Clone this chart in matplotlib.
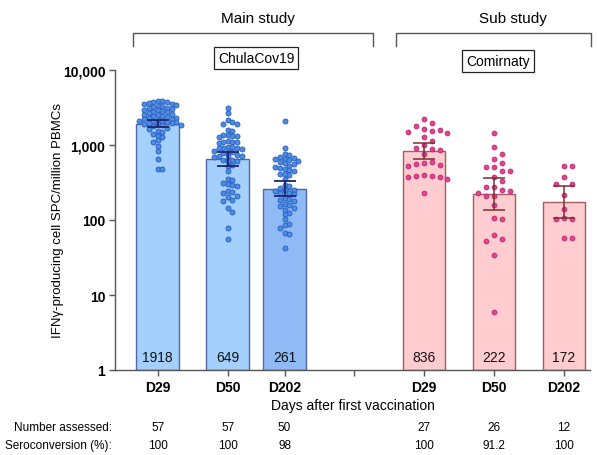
import numpy as np
import matplotlib
matplotlib.use("Agg")
import matplotlib.pyplot as plt
import matplotlib.transforms as mtransforms
from matplotlib.lines import Line2D

plt.rcParams['font.family'] = ['Liberation Sans', 'DejaVu Sans']

# ---------------- data ----------------
tick_labels = ["D29", "D50", "D202", "D29", "D50", "D202"]
main_gmt = [1918, 649, 261]
sub_gmt = [836, 222, 172]
main_ci_low = [1730, 520, 209]
main_ci_high = [2150, 815, 330]
sub_ci_low = [660, 138, 106]
sub_ci_high = [1075, 363, 283]
number_assessed = ["57", "57", "50", "27", "26", "12"]
seroconversion = ["100", "100", "98", "100", "91.2", "100"]

main_d29 = [3900, 3820, 3760, 3700, 3620, 3550, 3480, 3420, 3360, 3300,
            3230, 3160, 3100, 3040, 2970, 2900, 2840, 2780, 2720, 2660,
            2600, 2550, 2500, 2450, 2400, 2360, 2320, 2280, 2240, 2200,
            2160, 2120, 2090, 2060, 2030, 2000, 1970, 1940, 1910, 1880,
            1850, 1820, 1780, 1700, 1640, 1560, 1480, 1420, 1330, 1260,
            1150, 1100, 970, 830, 660, 484, 480]
main_d50 = [3100, 2650, 2150, 2050, 1920, 1880, 1580, 1520,
            1360, 1340, 1320, 1300, 1290, 1120, 1110, 1100, 1090, 1070,
            940, 930, 920, 910, 900, 890, 820, 810, 800, 790,
            730, 720, 715, 705, 700, 640, 630, 620, 610, 545, 525, 450,
            355, 345, 315, 305, 290, 280, 240, 235, 230, 210, 200, 182, 178,
            145, 127, 79, 56]
main_d202 = [2100, 920, 770, 740, 700, 680, 660, 645, 630, 615, 590, 570, 550,
             530, 515, 500, 475, 460, 445, 415, 405, 395, 350, 290, 280,
             265, 255, 250, 245, 232, 226, 220, 198, 192, 186, 180, 165, 160, 155,
             145, 138, 124, 120, 102, 89, 86, 79, 67, 65, 42]
sub_d29 = [2210, 1960, 1800, 1650, 1600, 1550, 1480, 1440, 1290, 1130, 1010, 920,
           890, 860, 755, 600, 570, 555, 545, 530, 400, 390, 385, 375, 370, 350, 232]
sub_d50 = [1440, 940, 767, 660, 580, 515, 505, 455, 445, 370, 330, 278, 272, 250,
           246, 226, 210, 206, 158, 106, 102, 64, 55, 53, 34, 6]
sub_d202 = [530, 520, 372, 302, 298, 213, 141, 106, 104, 102, 58, 57]

main_points = [main_d29, main_d50, main_d202]
sub_points = [sub_d29, sub_d50, sub_d202]

# ---------------- layout ----------------
W, H = 598, 456
fig = plt.figure(figsize=(W/100, H/100), dpi=100)
ax = fig.add_axes([115/W, (H-371)/H, (590-115)/W, (371-71)/H])

main_x = [0, 1, 1.81]
sub_x = [3.8, 4.8, 5.8]
gap_tick = 2.8
bw = 0.61

ax.set_yscale('log')
ax.set_ylim(1, 10000)
ax.set_xlim(-0.61, 6.17)

main_face = ['#a3d0fd', '#a3d0fd', '#8fbaf5']
main_edge = '#5565a8'
sub_face = '#ffcdcf'
sub_edge = '#a85a5e'

ax.bar(main_x, main_gmt, width=bw, bottom=1, color=main_face, edgecolor=main_edge,
       linewidth=1.0, zorder=1)
ax.bar(sub_x, sub_gmt, width=bw, bottom=1, color=sub_face, edgecolor=sub_edge,
       linewidth=1.0, zorder=1)


def swarm(xc, vals, d):
    y_disp = [ax.transData.transform((xc, v))[1] for v in vals]
    x0 = ax.transData.transform((xc, 1))[0]
    order = np.argsort(y_disp)[::-1]
    placed = []
    out = [0.0]*len(vals)
    cands = [0.0]
    for j in range(1, 40):
        cands += [j*d, -j*d]
    for i in order:
        yd = y_disp[i]
        for off in cands:
            if all((px-(x0+off))**2 + (py-yd)**2 >= (d*0.98)**2 for px, py in placed):
                placed.append((x0+off, yd))
                out[i] = off
                break
    inv = ax.transData.inverted()
    scale = inv.transform((x0+1, 0))[0] - inv.transform((x0, 0))[0]
    return [xc + o*scale for o in out]


for xc, vals in zip(main_x, main_points):
    xs = swarm(xc, vals, 4.6)
    ax.scatter(xs, vals, s=13, color='#4a8ee8', edgecolor='#2b5cb8', linewidth=0.6, zorder=3)
for xc, vals in zip(sub_x, sub_points):
    xs = swarm(xc, vals, 7.8)
    ax.scatter(xs, vals, s=12, color='#e6428f', edgecolor='#b52670', linewidth=0.6, zorder=3)

m_gmt = np.array(main_gmt, float)
s_gmt = np.array(sub_gmt, float)
ax.errorbar(main_x, m_gmt, yerr=[m_gmt-np.array(main_ci_low), np.array(main_ci_high)-m_gmt],
            fmt='none', ecolor='#1f2470', elinewidth=1.3, capsize=8, capthick=1.3, zorder=4)
ax.errorbar(sub_x, s_gmt, yerr=[s_gmt-np.array(sub_ci_low), np.array(sub_ci_high)-s_gmt],
            fmt='none', ecolor='#7a2f33', elinewidth=1.1, capsize=8, capthick=1.1, zorder=4)

for xc, v in zip(main_x + sub_x, main_gmt + sub_gmt):
    ax.text(xc, 1.5, f"{v}", ha='center', va='center', fontsize=10, color='#111111', zorder=5)

for s in ['top', 'right']:
    ax.spines[s].set_visible(False)
for s in ['left', 'bottom']:
    ax.spines[s].set_color('#555555')
    ax.spines[s].set_linewidth(1.0)
ax.set_yticks([1, 10, 100, 1000, 10000])
ax.set_yticklabels(["1", "10", "100", "1,000", "10,000"], fontsize=10, fontweight='bold')
ax.minorticks_off()
all_x = main_x + [gap_tick] + sub_x
ax.set_xticks(all_x)
ax.set_xticklabels(tick_labels[:3] + [""] + tick_labels[3:], fontsize=10, fontweight='bold')
ax.tick_params(axis='both', length=4, width=1.0, color='#555555', pad=3)
ax.set_ylabel("IFNγ-producing cell SPC/million PBMCs", fontsize=9.5)
ax.yaxis.set_label_coords(-0.108, 0.5)

ax.text(0.5, -0.117, "Days after first vaccination", transform=ax.transAxes,
        ha='center', va='center', fontsize=10)
bt = mtransforms.blended_transform_factory(ax.transData, fig.transFigure)
y_na = (H-428)/H
y_sc = (H-446)/H
fig.text(112/W, y_na, "Number assessed:", ha='right', va='center', fontsize=8.5)
fig.text(112/W, y_sc, "Seroconversion (%):", ha='right', va='center', fontsize=8.5)
for xc, a, b in zip(main_x + sub_x, number_assessed, seroconversion):
    ax.text(xc, y_na, a, transform=bt, ha='center', va='center', fontsize=8.5, clip_on=False)
    ax.text(xc, y_sc, b, transform=bt, ha='center', va='center', fontsize=8.5, clip_on=False)


def fx(px):
    return px / W


def fy(py):
    return (H - py) / H


for (x1, x2, title, tx, box, bx, by) in [
        (133, 373, "Main study", 258, "ChulaCov19", 256, 59),
        (396, 591, "Sub study", 513, "Comirnaty", 498, 62)]:
    fig.add_artist(Line2D([fx(x1), fx(x1), fx(x2), fx(x2)],
                          [fy(47), fy(34), fy(34), fy(47)], color='#555555', lw=1.0))
    fig.text(fx(tx), fy(19), title, ha='center', va='center', fontsize=11)
    fig.text(fx(bx), fy(by), box, ha='center', va='center', fontsize=10,
             bbox=dict(boxstyle='square,pad=0.3', facecolor='white', edgecolor='#222222', lw=0.9))

fig.savefig("out.png", dpi=100)
